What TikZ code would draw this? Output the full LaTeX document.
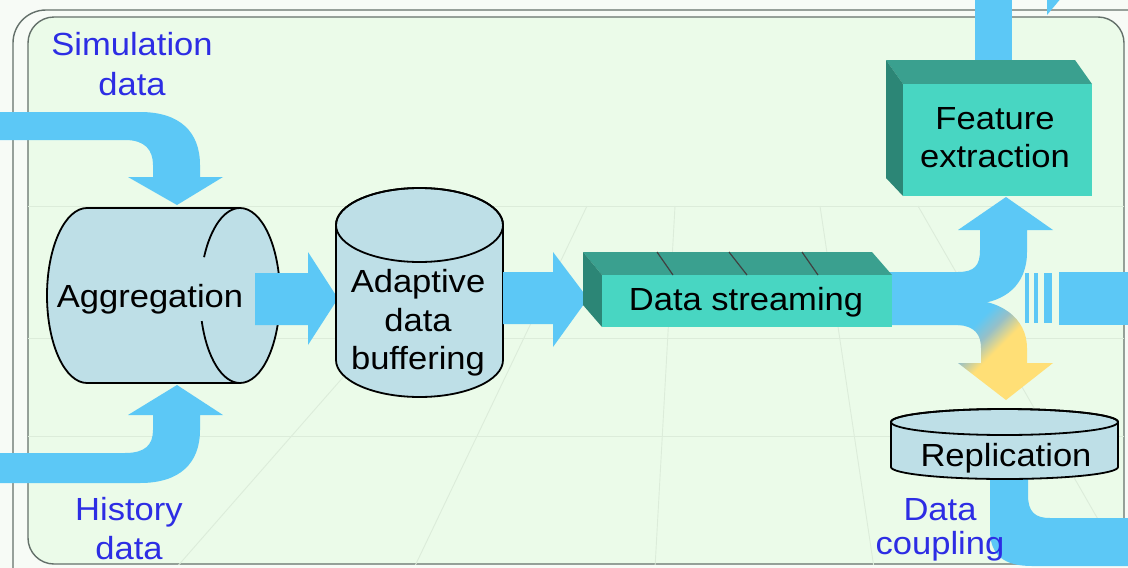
\documentclass[tikz,border=0pt]{standalone}
\usepackage{fontspec}
\newfontfamily\diagfont{Liberation Sans}[FakeStretch=1.08]
\newcommand\boxfont{\diagfont\fontsize{32}{38}\selectfont}

\definecolor{bgout}{RGB}{247,251,246}
\definecolor{bgin}{RGB}{235,251,233}
\definecolor{framec}{RGB}{100,112,106}
\definecolor{gridc}{RGB}{220,236,218}
\definecolor{flow}{RGB}{92,200,246}
\definecolor{grayblue}{RGB}{150,192,200}
\definecolor{yel}{RGB}{255,223,118}
\definecolor{cylc}{RGB}{190,223,231}
\definecolor{tealf}{RGB}{72,214,194}
\definecolor{tealt}{RGB}{58,160,143}
\definecolor{teals}{RGB}{44,134,118}
\definecolor{labelblue}{RGB}{45,45,228}

% blue-to-yellow blend for the branch that turns down to the replica
\pgfdeclarehorizontalshading{bendshade}{100bp}{color(0bp)=(flow); color(30bp)=(flow); color(38bp)=(grayblue); color(47bp)=(yel); color(100bp)=(yel)}

\tikzset{
  flowfill/.style={fill=flow, draw=none},
  cylbody/.style={fill=cylc, draw=black, line width=1.8pt},
  cylline/.style={draw=black, line width=1.8pt},
  gridline/.style={draw=gridc, line width=0.9pt},
  boxlabel/.style={font=\boxfont, text=black, inner sep=0pt, anchor=base},
  sidelabel/.style={font=\boxfont, text=labelblue, inner sep=0pt, anchor=base},
}

\begin{document}
\begin{tikzpicture}[x=1pt,y=-1pt]
\useasboundingbox (0,0) rectangle (1128,568);

% page and double frame
\fill[bgout] (0,0) rectangle (1128,568);
\draw[framec, line width=1.4pt, rounded corners=33] (13,620) -- (13,10) -- (1180,10);
\filldraw[fill=bgin, draw=framec, line width=1.4pt, rounded corners=26] (28,17) rectangle (1124,564);

% faint perspective floor
\begin{scope}
  \clip (28,200) rectangle (1124,564);
  \draw[gridline] (28,206) -- (1124,206);
  \draw[gridline] (28,338) -- (1124,338);
  \draw[gridline] (28,436) -- (1124,436);
  \draw[gridline] (176,568) -- (493,206);
  \draw[gridline] (414,568) -- (587,206);
  \draw[gridline] (655,568) -- (675,206);
  \draw[gridline] (874,568) -- (820,206);
  \draw[gridline] (1126,568) -- (918,206);
\end{scope}

% inputs into aggregation
\fill[flowfill] (-5,112) -- (140,112) .. controls (180,112) and (200,132) .. (200,165) -- (200,177) -- (223,177) -- (177,205) -- (128,177) -- (153,177) -- (153,165) .. controls (153,150) and (145,140) .. (125,140) -- (-5,140) -- cycle;
\fill[flowfill] (-5,483) -- (140,483) .. controls (180,483) and (200,463) .. (200,430) -- (200,415) -- (223,415) -- (177,385) -- (128,415) -- (153,415) -- (153,430) .. controls (153,445) and (145,453) .. (125,453) -- (-5,453) -- cycle;

% aggregation cylinder (lying on its side)
\filldraw[cylbody] (87,208) -- (240,208) arc[start angle=270, end angle=450, x radius=40, y radius=87.5] -- (87,383) arc[start angle=90, end angle=270, x radius=40, y radius=87.5] -- cycle;
\draw[cylline] (240,208) arc[start angle=270, end angle=206, x radius=40, y radius=87.5];
\draw[cylline] (201.75,321.1) arc[start angle=163, end angle=90, x radius=40, y radius=87.5];
\node[boxlabel] (agg) at (150,307) {Aggregation};

% aggregation -> buffering
\fill[flowfill] (255,273) -- (308,273) -- (308,252) -- (338,298.5) -- (308,345) -- (308,325) -- (255,325) -- cycle;

% adaptive data buffering cylinder
\filldraw[cylbody] (336,225) -- (336,360) arc[start angle=180, end angle=0, x radius=83.5, y radius=37] -- (503,225) arc[start angle=0, end angle=-180, x radius=83.5, y radius=37] -- cycle;
\draw[cylline] (419.5,225) ellipse[x radius=83.5, y radius=37];
\node[boxlabel] (buf1) at (418,292) {Adaptive};
\node[boxlabel] (buf2) at (418,331) {data};
\node[boxlabel] (buf3) at (418,369) {buffering};

% buffering -> streaming
\fill[flowfill] (503,272) -- (553,272) -- (553,252) -- (588,298.5) -- (553,347) -- (553,324) -- (503,324) -- cycle;

% streaming -> feature extraction
\fill[flowfill] (880,272) -- (958,272) .. controls (975,272) and (980,265) .. (980,250) -- (980,230) -- (958,230) -- (1006,197) -- (1053,230) -- (1027,230) -- (1027,252) .. controls (1027,285) and (1005,302) .. (975,304) -- (962,325) -- (880,325) -- cycle;

% streaming -> replication
\shade[shading=bendshade, shading angle=-45] (962,300) .. controls (1000,298) and (1027,318) .. (1027,348) -- (1027,363) -- (1053,363) -- (1006,400) -- (958,363) -- (981,363) -- (981,348) .. controls (981,335) and (975,326) .. (958,325) -- cycle;

% onward stream
\fill[flowfill] (1025,273) rectangle (1029,323);
\fill[flowfill] (1034,273) rectangle (1038,323);
\fill[flowfill] (1044,273) rectangle (1052,323);
\fill[flowfill] (1059,272) rectangle (1135,325);

% data streaming block
\fill[tealt] (583,252) -- (872,252) -- (892,275) -- (602,275) -- cycle;
\fill[teals] (583,252) -- (602,275) -- (602,327) -- (583,305) -- cycle;
\fill[tealf] (602,275) rectangle (892,327);
\draw[black!75, line width=1.2pt] (657,252) -- (673,275);
\draw[black!75, line width=1.2pt] (729,252) -- (747,275);
\draw[black!75, line width=1.2pt] (802,252) -- (818,275);
\node[boxlabel] (stream) at (746,310) {Data streaming};

% output of feature extraction
\fill[flowfill] (975,-5) rectangle (1012,64);
\fill[flowfill] (1047,-3) -- (1062,-3) -- (1047,15) -- cycle;

% feature extraction block
\fill[tealt] (886,60) -- (1075,60) -- (1092,84) -- (903,84) -- cycle;
\fill[teals] (886,60) -- (903,84) -- (903,196) -- (886,178) -- cycle;
\fill[tealf] (903,84) rectangle (1092,196);
\node[boxlabel] (feat1) at (995,129) {Feature};
\node[boxlabel] (feat2) at (995,167) {extraction};

% replication -> coupling
\fill[flowfill] (990,465) -- (990,530) .. controls (990,556) and (1005,566) .. (1032,566) -- (1135,566) -- (1135,518) -- (1050,518) .. controls (1035,518) and (1028,512) .. (1028,495) -- (1028,465) -- cycle;

% replication cylinder
\filldraw[cylbody] (891,422) -- (891,467) arc[start angle=180, end angle=0, x radius=113.5, y radius=12] -- (1118,422) arc[start angle=0, end angle=-180, x radius=113.5, y radius=13] -- cycle;
\draw[cylline] (1004.5,422) ellipse[x radius=113.5, y radius=13];
\node[boxlabel] (repl) at (1006,466) {Replication};

% source and sink labels
\node[sidelabel] (sim1) at (132,55) {Simulation};
\node[sidelabel] (sim2) at (132,95) {data};
\node[sidelabel] (hist1) at (129,520) {History};
\node[sidelabel] (hist2) at (129,559) {data};
\node[sidelabel] (coup1) at (940,520) {Data};
\node[sidelabel] (coup2) at (940,554) {coupling};
\end{tikzpicture}
\end{document}
